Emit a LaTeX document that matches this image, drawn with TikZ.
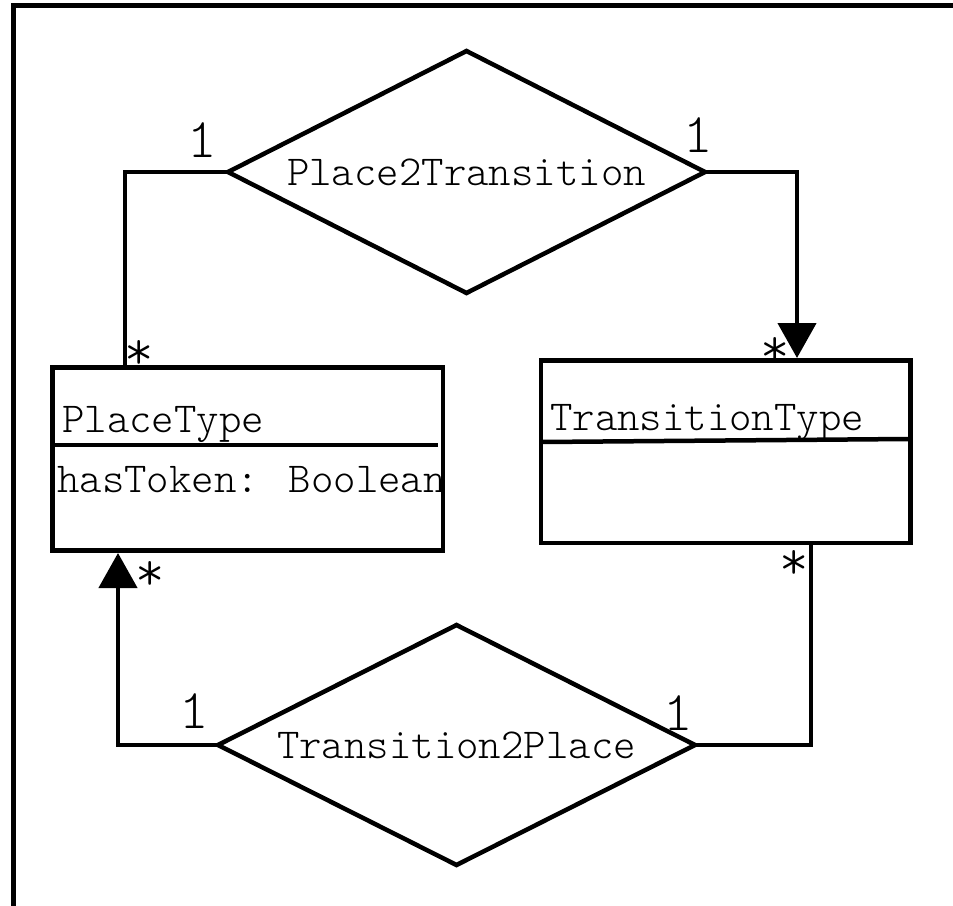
\documentclass[tikz,border=0pt]{standalone}
\usepackage{fontspec}
\newfontfamily\lightmono{Latin Modern Mono Light}
\usetikzlibrary{shapes.geometric,arrows.meta}

\tikzset{
  conn/.style={line width=4.5pt},
  headarrow/.style={-{Triangle[length=35pt,width=38pt]}},
  relation/.style={diamond, aspect=2, draw, line width=4.5pt, outer sep=0pt, inner sep=0pt,
    font=\lightmono\fontsize{42.7}{46}\selectfont},
  classbox/.style={rectangle, draw, line width=4.5pt, inner sep=0pt},
  classtext/.style={anchor=base west, inner sep=0pt, font=\lightmono\fontsize{42.7}{46}\selectfont},
  mult/.style={inner sep=0pt, font=\lightmono\fontsize{56}{60}\selectfont},
}

\begin{document}
\begin{tikzpicture}[x=1pt, y=-1pt]
  \useasboundingbox (0,0) rectangle (953,905);

  % outer frame (only its top and left sides fall on the page)
  \draw[line width=5pt] (13.5,960) -- (13.5,5.5) -- (1000,5.5);

  % relations
  \node[relation, minimum width=477pt, minimum height=242pt] (p2t) at (466.5,172) {Place2Transition};
  \node[relation, minimum width=477pt, minimum height=240pt] (t2p) at (456.5,745) {Transition2Place};

  % classes
  \node[classbox, minimum width=390.5pt, minimum height=183pt] (place) at (247.75,459) {};
  \node[classbox, minimum width=369.5pt, minimum height=182.5pt] (trans) at (725.75,451.75) {};

  \draw[conn] (52.5,445) -- (438,445);
  \draw[conn] (541,442) -- (908,439);

  \node[classtext] (placeName) at (62,432) {PlaceType};
  \node[classtext] (placeAttr) at (57,492) {hasToken: Boolean};
  \node[classtext] (transName) at (550,430) {TransitionType};

  % connector end points on the class boxes
  \coordinate (placeTop) at (125,365);
  \coordinate (transTop) at (797,358);
  \coordinate (transBot) at (811,543);
  \coordinate (placeBot) at (118,553);

  \draw[conn] (p2t.west) -| (placeTop);
  \draw[conn, headarrow] (p2t.east) -| (transTop);
  \draw[conn] (transBot) |- (t2p.east);
  \draw[conn, headarrow] (t2p.west) -| (placeBot);

  % multiplicities
  \node[mult, anchor=base] (m1) at (202,157) {1};
  \node[mult, anchor=base] (m2) at (698,152) {1};
  \node[mult, anchor=base] (m3) at (194,728) {1};
  \node[mult, anchor=base] (m4) at (678,730) {1};

  \node[mult] (s1) at (139,355) {*};
  \node[mult] (s2) at (775,352) {*};
  \node[mult] (s3) at (794,565) {*};
  \node[mult] (s4) at (150,576) {*};
\end{tikzpicture}
\end{document}
